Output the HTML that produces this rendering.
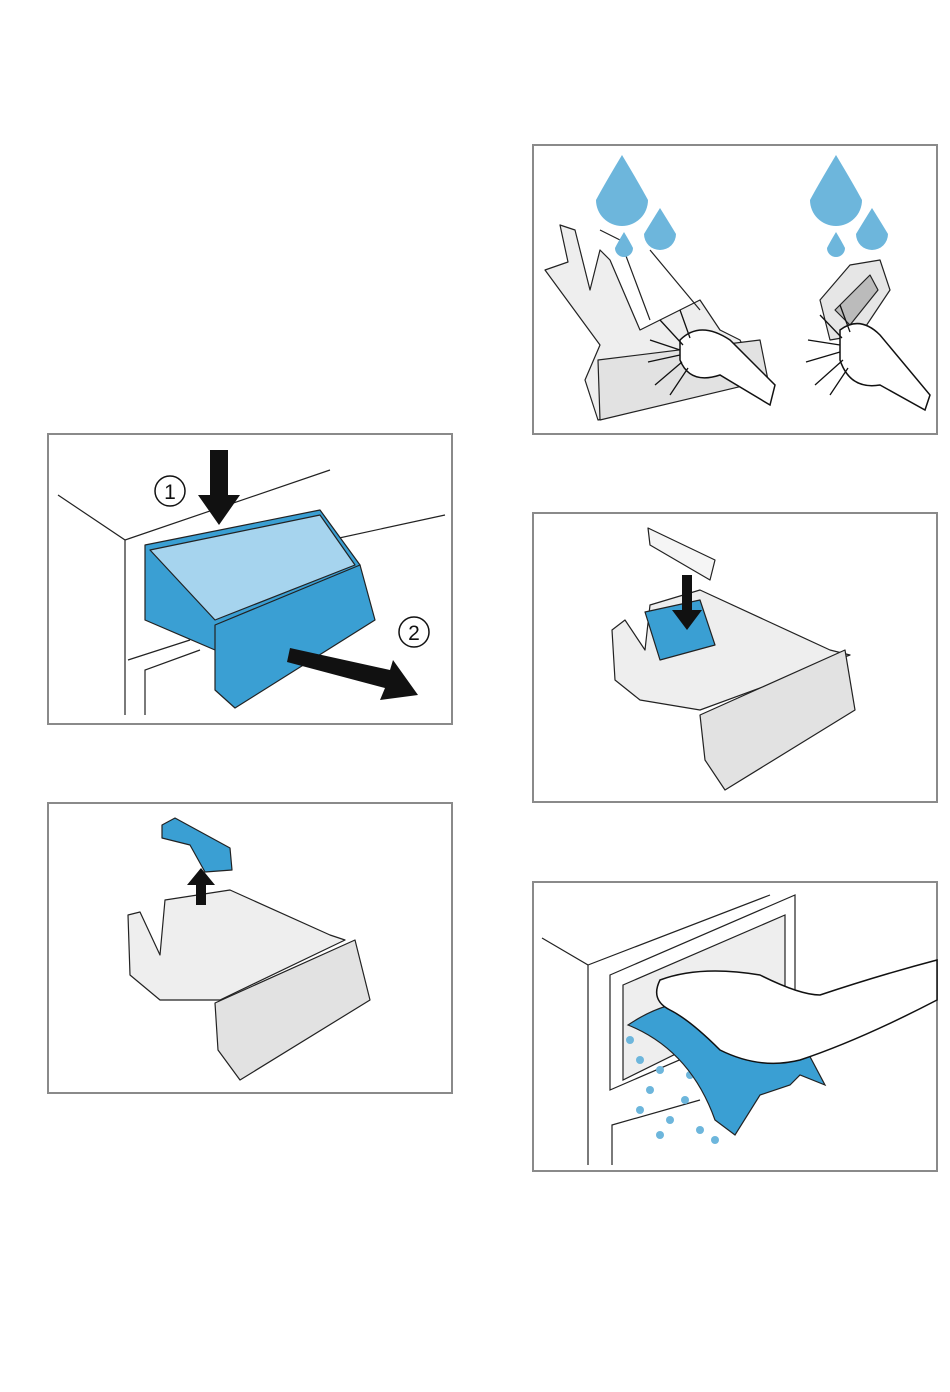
<!DOCTYPE html>
<html><head><meta charset="utf-8"><style>
html,body{margin:0;padding:0;background:#fff;}
svg{display:block;font-family:"Liberation Sans",sans-serif;}
</style></head><body>
<svg width="950" height="1392" viewBox="0 0 950 1392" xmlns="http://www.w3.org/2000/svg">
<g fill="none" stroke="#8a8a8a" stroke-width="2">
<rect x="533" y="145" width="404" height="289"/>
<rect x="48" y="434" width="404" height="290"/>
<rect x="533" y="513" width="404" height="289"/>
<rect x="48" y="803" width="404" height="290"/>
<rect x="533" y="882" width="404" height="289"/>
</g>

<!-- Box 1: brushing drawer -->
<g stroke="#222" stroke-width="1.2" stroke-linejoin="round">
<path d="M545 270 L568 262 L560 225 L575 230 L590 290 L600 250 L610 260 L640 330 L700 300 L720 330 L740 340 L760 380 L598 420 L585 380 L600 345 Z" fill="#eeeeee"/>
<path d="M598 360 L760 340 L768 380 L600 420 Z" fill="#e2e2e2"/>
<path d="M600 230 L620 240 L650 320" fill="none"/>
<path d="M650 250 L700 310" fill="none"/>
<path d="M820 300 L850 265 L880 260 L890 290 L860 335 L830 340 Z" fill="#e6e6e6"/>
<path d="M835 310 L870 275 L878 290 L850 325 Z" fill="#bbb"/>
</g>
<g fill="#6db6dc">
<path d="M622 155 Q640 185 648 200 A26 26 0 1 1 596 200 Q604 185 622 155Z"/>
<path d="M660 208 Q670 224 676 234 A16 16 0 1 1 644 234 Q650 224 660 208Z"/>
<path d="M624 232 Q630 242 633 248 A9 9 0 1 1 615 248 Q618 242 624 232Z"/>
<path d="M836 155 Q854 185 862 200 A26 26 0 1 1 810 200 Q818 185 836 155Z"/>
<path d="M872 208 Q882 224 888 234 A16 16 0 1 1 856 234 Q862 224 872 208Z"/>
<path d="M836 232 Q842 242 845 248 A9 9 0 1 1 827 248 Q830 242 836 232Z"/>
</g>
<g stroke="#111" stroke-width="1.5" fill="#fff">
<path d="M680 340 Q700 320 730 340 L775 385 L770 405 L720 375 Q690 385 680 360Z"/>
<path d="M840 330 Q860 315 880 335 L930 395 L925 410 L880 385 Q850 390 840 360Z"/>
</g>
<g stroke="#111" stroke-width="1.3">
<path d="M680 350 L650 340 M680 355 L648 362 M682 362 L655 385 M688 368 L670 395 M683 345 L660 320 M690 338 L680 310"/>
<path d="M840 345 L808 340 M840 352 L806 362 M843 360 L815 385 M848 368 L830 395 M842 338 L820 315 M850 332 L840 305"/>
</g>

<!-- Box 2: blue drawer -->
<g stroke="#222" stroke-width="1.2" fill="none">
<path d="M58 495 L125 540 L125 715 M125 540 L330 470 M145 715 L145 670 L200 650 M128 660 L190 640 M330 540 L445 515"/>
</g>
<g stroke="#222" stroke-width="1.2" stroke-linejoin="round">
<path d="M145 545 L320 510 L360 565 L360 600 L215 650 L145 620 Z" fill="#3a9fd3"/>
<path d="M150 550 L320 515 L355 565 L215 620 Z" fill="#a6d4ee"/>
<path d="M215 625 L360 565 L375 620 L235 708 L215 690 Z" fill="#3a9fd3"/>
</g>
<path d="M210 450 L228 450 L228 495 L240 495 L219 525 L198 495 L210 495Z" fill="#111"/>
<path d="M290 648 L390 670 L393 660 L418 695 L380 700 L385 688 L287 662Z" fill="#111"/>
<g fill="#fff" stroke="#111" stroke-width="1.5">
<circle cx="170" cy="491" r="15"/><circle cx="414" cy="632" r="15"/>
</g>
<text x="170" y="499" font-size="21" text-anchor="middle" fill="#111">1</text>
<text x="414" y="640" font-size="21" text-anchor="middle" fill="#111">2</text>

<!-- Box 3: drawer with white insert -->
<g stroke="#222" stroke-width="1.2" stroke-linejoin="round">
<path d="M612 630 L625 620 L645 650 L650 605 L700 590 L830 650 L850 655 L700 710 L640 700 L615 680 Z" fill="#eeeeee"/>
<path d="M700 715 L845 650 L855 710 L725 790 L705 760 Z" fill="#e2e2e2"/>
<path d="M645 612 L700 600 L715 645 L660 660 Z" fill="#3a9fd3"/>
<path d="M648 528 L715 560 L710 580 L650 545 Z" fill="#f5f5f5"/>
</g>
<path d="M682 575 L692 575 L692 610 L702 610 L687 630 L672 610 L682 610Z" fill="#111"/>

<!-- Box 4: lifting insert -->
<g stroke="#222" stroke-width="1.2" stroke-linejoin="round">
<path d="M128 915 L140 912 L160 955 L165 900 L230 890 L330 935 L345 940 L220 1000 L160 1000 L130 975 Z" fill="#eeeeee"/>
<path d="M215 1003 L355 940 L370 1000 L240 1080 L218 1050 Z" fill="#e2e2e2"/>
<path d="M162 825 L175 818 L230 848 L232 870 L205 872 L190 845 L162 838Z" fill="#3a9fd3"/>
</g>
<path d="M196 905 L206 905 L206 885 L215 885 L201 868 L187 885 L196 885Z" fill="#111"/>

<!-- Box 5: wiping -->
<g stroke="#222" stroke-width="1.2" fill="none">
<path d="M542 938 L588 965 L588 1165 M588 965 L770 895 M612 1165 L612 1125 L700 1100"/>
<path d="M610 975 L795 895 L795 1010 L610 1090 Z" fill="#fff"/>
<path d="M623 985 L785 915 L785 1000 L623 1080 Z" fill="#eee"/>
</g>
<g fill="#6db6dc">
<circle cx="640" cy="1060" r="4"/><circle cx="660" cy="1070" r="4"/><circle cx="650" cy="1090" r="4"/>
<circle cx="640" cy="1110" r="4"/><circle cx="670" cy="1120" r="4"/><circle cx="685" cy="1100" r="4"/>
<circle cx="700" cy="1130" r="4"/><circle cx="660" cy="1135" r="4"/><circle cx="715" cy="1140" r="4"/>
<circle cx="690" cy="1075" r="4"/><circle cx="630" cy="1040" r="4"/>
</g>
<path d="M628 1025 Q680 990 720 1010 L780 1000 L825 1085 L800 1075 L790 1085 L760 1095 L735 1135 L715 1120 Q690 1050 628 1025Z" fill="#3a9fd3" stroke="#222" stroke-width="1.2"/>
<path d="M660 980 Q700 965 760 975 Q800 995 820 995 Q880 975 937 960 L937 1000 Q860 1040 800 1060 Q760 1070 720 1050 Q690 1020 670 1010 Q650 1000 660 980Z" fill="#fff" stroke="#111" stroke-width="1.5"/>
</svg>
</body></html>
